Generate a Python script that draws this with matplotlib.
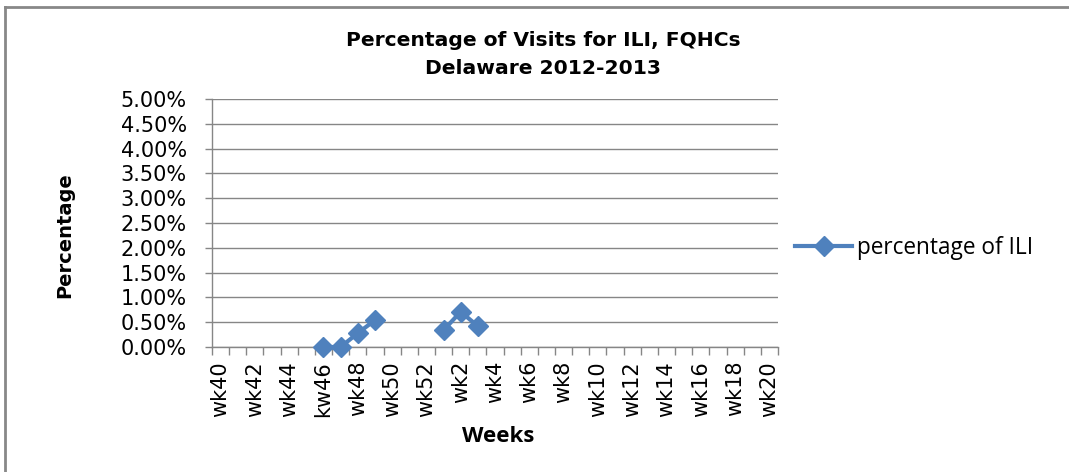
import matplotlib

matplotlib.use("Agg")
import matplotlib.pyplot as plt
import numpy as np
from matplotlib.lines import Line2D

# week categories (wk40..wk52, wk1..wk20); source chart has the "kw46" typo
weeks = ["wk40", "wk41", "wk42", "wk43", "wk44", "wk45", "kw46", "wk47", "wk48",
         "wk49", "wk50", "wk51", "wk52"] + [f"wk{i}" for i in range(1, 21)]
# percentage of ILI visits (fraction), gaps where no data was reported
ili_pct = [np.nan] * 6 + [0.0, 0.0, 0.0028, 0.0054, np.nan, np.nan, np.nan,
                          0.0034, 0.0071, 0.0042] + [np.nan] * 17

BLUE = "#4F81BD"
GRID = "#868686"

fig = plt.figure(figsize=(10.69, 4.72), dpi=100)
ax = fig.add_axes([212 / 1069, 1 - 347 / 472, 566 / 1069, 248 / 472])

x = np.arange(len(weeks))
ax.plot(x, ili_pct, color=BLUE, lw=3, marker="D", markersize=10,
        markerfacecolor=BLUE, markeredgecolor=BLUE, label="percentage of ILI",
        clip_on=False, zorder=3)

ax.set_xlim(-0.5, len(weeks) - 0.5)
ax.set_ylim(0, 0.05)
yt = np.arange(0, 0.0501, 0.005)
ax.set_yticks(yt)
ax.set_yticklabels([f"{v * 100:.2f}%" for v in yt], fontsize=15)
ax.yaxis.grid(True, color=GRID, lw=1)
ax.set_axisbelow(True)

# labels on every other week, tick marks on category boundaries
ax.set_xticks(x[::2])
ax.set_xticklabels(weeks[::2], rotation=90, fontsize=15)
ax.set_xticks(np.arange(-0.5, len(weeks)), minor=True)
ax.tick_params(axis="x", which="major", length=0, pad=10)
ax.tick_params(axis="x", which="minor", length=6, color=GRID, width=1)
ax.tick_params(axis="y", length=5, color=GRID, width=1, pad=13)

for s in ["top", "right"]:
    ax.spines[s].set_visible(False)
for s in ["left", "bottom"]:
    ax.spines[s].set_color(GRID)
    ax.spines[s].set_linewidth(1)

fig.text(543 / 1069, 1 - 40 / 472, "Percentage of Visits for ILI, FQHCs",
         ha="center", va="center", fontsize=14.6, fontweight="bold")
fig.text(543 / 1069, 1 - 68 / 472, "Delaware 2012-2013",
         ha="center", va="center", fontsize=14.6, fontweight="bold")
fig.text(65 / 1069, 1 - 235 / 472, "Percentage", rotation=90,
         ha="center", va="center", fontsize=14, fontweight="bold")
fig.text(498 / 1069, 1 - 436 / 472, "Weeks", ha="center", va="center",
         fontsize=16, fontweight="bold", family="Open Sans")

ax.legend(loc="center left", bbox_to_anchor=(775 / 1069, 1 - 248 / 472),
          bbox_transform=fig.transFigure, frameon=False, handlelength=2.5,
          handletextpad=0.2, prop={"family": "Open Sans", "size": 16.3})

# chart frame (left and top edges visible in the source crop)
fig.add_artist(Line2D([4.5 / 1069, 4.5 / 1069], [0, 1 - 6.5 / 472],
                      transform=fig.transFigure, color="#888888", lw=2))
fig.add_artist(Line2D([4.5 / 1069, 1], [1 - 6.5 / 472, 1 - 6.5 / 472],
                      transform=fig.transFigure, color="#888888", lw=2))

fig.savefig("out.png", dpi=100)
plt.close(fig)
